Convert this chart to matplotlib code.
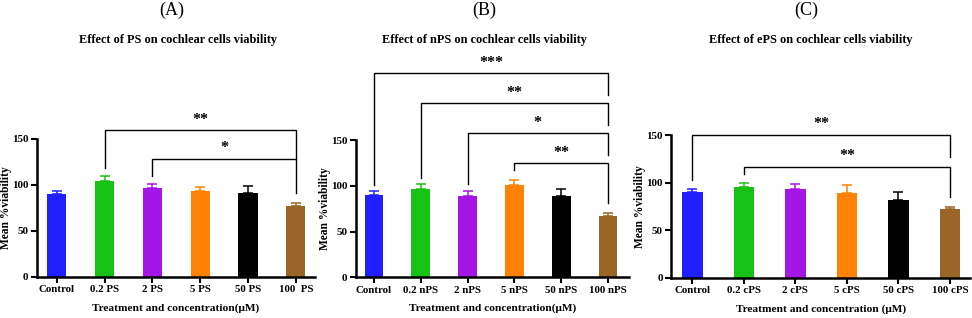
import matplotlib
matplotlib.use("Agg")
import matplotlib.pyplot as plt

# ---------------- data ----------------
cats_A = ["Control", "0.2 PS", "2 PS", "5 PS", "50 PS", "100  PS"]
means_A = [90.4, 104.4, 96.5, 92.9, 91.4, 77.4]
err_A = [2.9, 5.0, 4.3, 5.0, 7.5, 3.0]
brackets_A = [  # (i, j, y, left_leg_end, right_leg_end, label)
    (1, 5, 159.5, 118.0, 128.0, "**"),
    (2, 5, 128.0, 110.0, 90.8, "*"),
]

cats_B = ["Control", "0.2 nPS", "2 nPS", "5 nPS", "50 nPS", "100 nPS"]
means_B = [90.4, 96.6, 89.3, 100.6, 89.0, 67.2]
err_B = [3.5, 5.1, 5.1, 5.5, 7.3, 3.4]
brackets_B = [
    (0, 5, 223.0, 100.9, 199.0, "***"),
    (1, 5, 190.2, 108.2, 166.4, "**"),
    (2, 5, 157.4, 102.0, 133.7, "*"),
    (3, 5, 124.6, 117.3, 81.2, "**"),
]

cats_C = ["Control", "0.2 cPS", "2 cPS", "5 cPS", "50 cPS", "100 cPS"]
means_C = [90.5, 95.4, 93.5, 89.3, 81.5, 72.4]
err_C = [2.9, 4.5, 5.3, 7.7, 8.8, 2.1]
brackets_C = [
    (0, 5, 150.1, 103.0, 127.2, "**"),
    (1, 5, 116.7, 109.0, 84.5, "**"),
]

colors = ["#1f1fff", "#16c216", "#a416e6", "#ff8207", "#000000", "#9a6627"]
panel_labels = ["(A)", "(B)", "(C)"]
titles = ["Effect of PS on cochlear cells viability",
          "Effect of nPS on cochlear cells viability",
          "Effect of ePS on cochlear cells viability"]
xlabels = ["Treatment and concentration(\u03bcM)",
           "Treatment and concentration(\u03bcM)",
           "Treatment and concentration (\u03bcM)"]
ylabel = "Mean %viability"
yticks = [0, 50, 100, 150]

# ---------------- layout (pixels) ----------------
W, H = 972, 318
SERIF = ["Liberation Serif", "DejaVu Serif"]
plt.rcParams["font.family"] = SERIF

fig = plt.figure(figsize=(W / 100, H / 100), dpi=100)

geo = [
    dict(left=36.7, y0=276.7, sx=47.8, sy=0.918, xl=(-0.42, 5.40), title_x=178, lab_x=172),
    dict(left=355.7, y0=277.3, sx=46.8, sy=0.915, xl=(-0.39, 5.45), title_x=484, lab_x=484),
    dict(left=671.3, y0=277.7, sx=51.5, sy=0.951, xl=(-0.41, 5.39), title_x=811, lab_x=806),
]
YTOP = 240

data = [(cats_A, means_A, err_A, brackets_A),
        (cats_B, means_B, err_B, brackets_B),
        (cats_C, means_C, err_C, brackets_C)]

for k, (cats, means, errs, brs) in enumerate(data):
    g = geo[k]
    wpx = (g["xl"][1] - g["xl"][0]) * g["sx"]
    hpx = YTOP * g["sy"]
    rect = [g["left"] / W, (H - g["y0"]) / H, wpx / W, hpx / H]
    ax = fig.add_axes(rect)
    ax.set_xlim(*g["xl"])
    ax.set_ylim(0, YTOP)
    x = list(range(len(cats)))
    ax.bar(x, means, width=0.4, color=colors, zorder=2)
    for xi, m, e, c in zip(x, means, errs, colors):
        ax.errorbar([xi], [m], yerr=[[0], [e]], fmt="none", ecolor=c,
                    elinewidth=1.1, capsize=3.4, capthick=1.1, zorder=3)
    for s in ["top", "right"]:
        ax.spines[s].set_visible(False)
    ax.spines["left"].set_linewidth(1.8)
    ax.spines["bottom"].set_linewidth(1.8)
    ax.spines["left"].set_bounds(0, 150)
    ax.set_yticks(yticks)
    ax.set_xticks(x)
    ax.set_xticklabels(cats, fontsize=7.8, fontweight="bold")
    ax.set_yticklabels([str(v) for v in yticks], fontsize=8, fontweight="bold")
    ax.tick_params(axis="both", width=1.5, length=4, pad=2)
    ax.set_xlabel(xlabels[k], fontsize=8.2, fontweight="bold")
    ax.xaxis.set_label_coords(0.5, -31 / hpx)
    ax.xaxis.label.set_va("center")
    ax.set_ylabel(ylabel, fontsize=8.3, fontweight="bold")
    ax.yaxis.set_label_coords(-25 / wpx, 75 / YTOP)

    for (i, j, y, yl, yr, lab) in brs:
        ax.plot([i, i, j, j], [yl, y, y, yr], color="black", lw=1.0,
                solid_joinstyle="miter", zorder=4)
        ax.text((i + j) / 2, y + 3.0, lab, ha="center", va="bottom",
                fontsize=11.5, fontweight="bold")

    fig.text(g["lab_x"] / W, 1 - 10 / H, panel_labels[k], ha="center",
             va="center", fontsize=13)
    fig.text(g["title_x"] / W, 1 - 40 / H, titles[k], ha="center",
             va="center", fontsize=8.8, fontweight="bold")

fig.savefig("out.png", dpi=100)
